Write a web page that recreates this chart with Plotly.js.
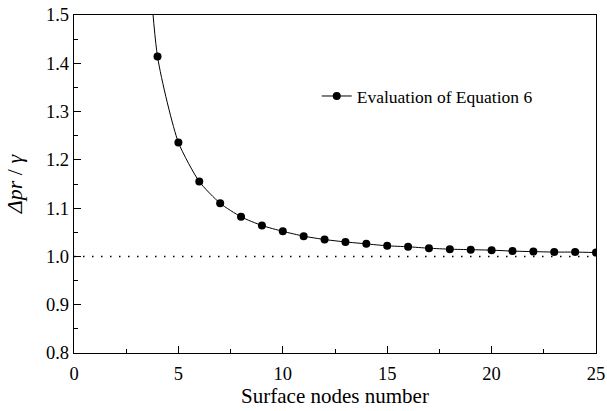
<!DOCTYPE html>
<html><head><meta charset="utf-8">
<script src="https://cdn.plot.ly/plotly-3.0.1.min.js"></script>
<style>body{margin:0;background:#fff}#c{width:607px;height:411px}</style>
</head><body><div id="c"></div>
<script>
const nodes = [3,4,5,6,7,8,9,10,11,12,13,14,15,16,17,18,19,20,21,22,23,24,25];
const ratio = [2.0,1.414,1.236,1.155,1.110,1.082,1.064,1.052,1.042,1.035,1.030,1.026,1.022,1.020,1.017,1.015,1.014,1.013,1.011,1.010,1.009,1.009,1.008];
const refX = [0,25];
const refY = [1.0,1.0];
const font = '"Liberation Serif", "Times New Roman", serif';
const data = [
  {x: refX, y: refY, mode:'lines', line:{color:'#000', width:1.5, dash:'1.5px,7.5px'}, showlegend:false, hoverinfo:'skip'},
  {x: nodes, y: ratio, mode:'lines+markers', name:'Evaluation of Equation 6',
   line:{color:'#000', width:1, shape:'spline', smoothing:0.6},
   marker:{color:'#000', size:8, symbol:'circle'}}
];
const axisCommon = {showline:true, mirror:true, linecolor:'#000', linewidth:1.2, showgrid:false, zeroline:false,
  ticks:'inside', ticklen:7, tickwidth:1, tickcolor:'#000', tickfont:{family:font, size:18.5, color:'#000'}};
const layout = {
  width:607, height:411, margin:{l:74, r:11, t:15, b:58},
  paper_bgcolor:'#fff', plot_bgcolor:'#fff', font:{family:font, color:'#000'},
  xaxis: Object.assign({}, axisCommon, {range:[0,25], dtick:5, tick0:0, ticklabelstandoff:4,
    minor:{ticks:'inside', dtick:2.5, ticklen:4, tickcolor:'#000', tickwidth:1},
    title:{text:'Surface nodes number', font:{family:font, size:21}, standoff:4}}),
  yaxis: Object.assign({}, axisCommon, {range:[0.8,1.5], dtick:0.1, tick0:0.8, tickformat:'.1f',
    minor:{ticks:'inside', dtick:0.05, ticklen:4, tickcolor:'#000', tickwidth:1},
    title:{text:'<i>Δpr</i> / <i>γ</i>', font:{family:font, size:22}, standoff:17}}),
  showlegend:true,
  legend:{x:0.465, y:0.76, xanchor:'left', yanchor:'middle', bgcolor:'rgba(0,0,0,0)', font:{family:font, size:17.5}}
};
Plotly.newPlot('c', data, layout, {displayModeBar:false, staticPlot:true});
</script></body></html>
